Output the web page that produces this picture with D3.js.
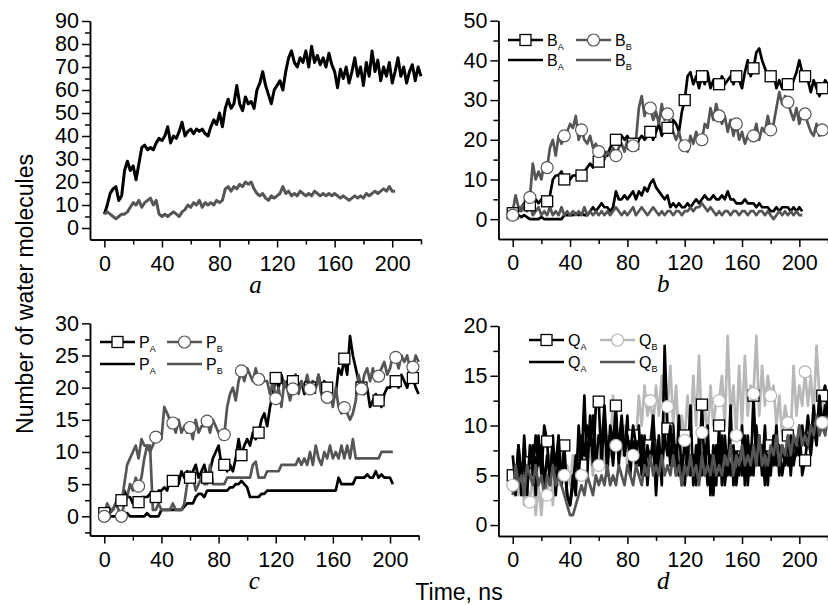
<!DOCTYPE html>
<html>
<head>
<meta charset="utf-8">
<script src="https://cdnjs.cloudflare.com/ajax/libs/d3/7.8.5/d3.min.js"></script>
<style>
body{margin:0;background:#fff;}
svg{display:block;font-family:"Liberation Sans",Arial,sans-serif;}
.axis path,.axis line{stroke:#000;stroke-width:1.5;}
.axis text{font-size:21.5px;fill:#000;}
</style>
</head>
<body>
<svg id="chart" width="828" height="605"></svg>
<script>
// samples every 2 ns, starting at 0 ns
const step = 2;
const xMajor = [0, 40, 80, 120, 160, 200];
const xMinor = [20, 60, 100, 140, 180, 220];

// panel a
const aBlack = [6,10,15,17,18,12,14,25,29,25,27,21,28,35,36,34,35,34,37,39,
  38,40,44,37,40,39,42,46,40,42,43,41,43,42,43,41,40,44,47,45,
  50,44,52,56,52,54,62,54,51,57,54,55,52,60,63,68,62,58,54,60,
  62,64,60,68,74,77,72,70,74,72,77,70,79,72,75,71,74,70,76,71,
  68,61,69,65,70,63,68,74,66,70,62,72,66,77,68,73,64,70,66,72,
  63,68,74,66,70,63,68,71,64,70,66];
const aGrey = [6,7,6,5,4,5,6,6,7,9,11,10,12,9,11,12,13,10,12,6,
  5,6,5,6,7,6,5,7,8,10,9,11,10,12,9,11,10,11,10,12,
  11,12,17,18,16,18,17,19,18,20,19,20,17,15,14,15,13,12,14,13,
  14,15,18,15,16,14,15,14,16,15,14,15,14,16,15,14,15,14,15,14,
  15,14,13,14,13,12,13,14,13,14,13,15,14,15,16,15,16,17,16,18,
  16,16];

// panel b
const bAmark = [1.5,2,2,3,4,4,3.5,5,5,4,5,5,4.5,6,10,11,11,12,10,9,
  10,11,11,12,11,12,13,14,13,15,14.5,16,17,16,18,19,20,19,21,20,
  21,19,19,18,20,21,20,21,22,20,22,24,21,23,23,22,25,24,22,27,
  30,36,37,34,36,33,36,34,37,33,35,34,34,36,34,35,36,34,36,35,
  33,37,40,36,38,42,43,40,38,36,36,37,33,35,33,35,34,33,35,37,
  40,37,36,35,32,35,33,31,33,35,34];
const bBmark = [1,2,3,3,4,5,5.5,14,10,12,10,14,13,18,20,16,21,19,21,22,
  24,23,26,20,22.5,20,19,21,18,19,17,18,15,17,16,18,16,18,19,17,
  20,19,18.5,20,28,31,26,29,28,25,27,24,29,25,26.5,24,22,20,22,19,
  18.5,17,21,19,22,20,20,24,23,28,25,29,26,24,26,22,25,21,24,20,
  22,19,21,20,21,24,20,23,22,26,22.5,24,28,32,29,31,29.5,27,25,28,
  24,27,26.5,24,22,21,24,21,22.5,23,22];
const bA = [2,1,1,0.5,1,0.5,0,0,0,0,0.5,0,0,0,0,0,0,0,1,1,
  1,1,1.5,1,1.5,1,1,2,3,2,3,4,3,3,2,3,7,5,5,6,
  5,6,7,5,7,6,8,7,9,10,8,7,6,5,6,3,4,3,4,3,
  3,4,3,4,5,4,5,6,5,5,6,5,5,6,5,7,5,5,4,4,
  4,5,4,4,4,3,4,3,3,3,2,2,3,2,3,3,3,2,3,2,
  3,2];
const bB = [2,6,3,2,3,2,4,1,2,3,1,2,1,3,1,2,1,3,1,2,
  1,2,1,2,1,3,1,2,1,2,1,2,1,2,1,2,3,2,1,2,
  1,2,3,1,2,3,2,1,2,3,2,1,2,1,2,2,1,2,2,1,
  2,2,3,2,3,3,4,3,2,3,2,1,2,1,2,2,1,2,2,1,
  2,2,1,2,2,1,2,2,1,2,1,0,1,2,1,2,1,2,1,2,
  1,1];

// panel c
const cAmark = [0.5,0.5,1,1,2,2,2.5,4,3,3,2,2,2.2,3,3,3,3.5,3,3,4,
  4,4.5,4,6,5.5,5,5,7,6,7,6,7,8,6,7,8,6,7,9,10,
  11,8,8,7,8,7,9,12,9.5,11,12,11,13,12,13,15,16,14,17,19,
  21.5,20,22,20,21,19,21,22,20,21,19,21,20,21,20,22,19,21,20,20,
  18,19,23,22,24.5,22,28,25,23,21,20,19,20,17,18,19,18,17,19,20,
  20,21,21,20,22,21,20,22,21.5,20,19];
const cBmark = [0,1,0.5,1,2,1,0,2,3,5,4,6,4.7,6,9,11,10,11,12.3,13,
  12,17,16,15,14.5,13,15,13,14,13,13.8,12,15,13,14,14,14.8,13,15,14,
  13,12,12.7,17,19,20,18,21,22.6,21,23,22,21,23,21.3,22,21,21,19,21,
  18.3,20,17,21,20,18,19.8,22,19,21,20,22,19.8,21,20,22,19,18,18.5,19,
  17,20,17,16,16.9,16,15,16,18,22,19.8,22,23,21,23,21,21.8,23,24,22,
  23,25,24.7,23,25,24,25,23,23.2,25,24];
const cA = [0,0,0,0,0,0,0,0,0.5,0,0,0,0,0,0,0.5,0,0,0,0,
  1,1,1,1,1,1,1,1,1.5,2,2,2,3,3.5,3.5,3,4,4,4,4,
  4,4,4,4,4.5,4.5,5,5,5.5,5,4.5,3,3,3,3,3.5,3.5,4,4,4,
  4,4,4,4,4,4,4,4,4,4,4,4,4,4,4,4,4,4,4,4,
  4,4,6,5,5,5,5,5,6,6,6,6,6.5,6,6,7,6,6.5,6,6,
  6,5];
const cB = [0,2,1,1,2,3,2,5,8,9,10,11,9,12,11,11,11,1,1,2,
  1,1,1,1,2,1,1,1,2,5,7,6,4,5,6,5,5,8,5,5,
  5,5,5,6,6,6,6,6,6,6,6,6,8,8.5,6,6,6,7,7,7,
  7,7,8,8,8,8,8,8,9,8,9,8,10,8,11,9,8,10,9,11,
  9,10,9,11,9,11,9,12,9,9,9,9,9,9,9,9,9,10,10,10,
  10,10];

// panel d
const dAmark = [5,3,8,3,9,4,6.3,8,3,9,5,10,8.4,4,9,3,7,5,8,3,
  2,5,3,10,6,13,5,11,6,12,12.4,6,11,5,10,8,12,6,10,7,
  11,5,9,6,10,5,9,4,8,11,6,9,4,18,9.7,6,10,5,11,4,
  9,6,12,4,8,5,12.1,5,10,3,8,4,10,4,9,5,12,4,8,5,
  10,4,9,5,13,6,9,5,10,4,8,6,10,5,8,6,9,5,9,7,
  10,5,6.5,9,7,10,8,12,13,14,11];
const dBmark = [4,5,3,6,2,4,2.3,5,1,4,1,5,3,7,2,6,4,8,5,6,
  4,7,6,8,5,7,6,8,5,9,6,8,6,9,7,13,8,9,7,10,
  6,9,7,8,13,10,14,11,12.5,10,14,11,15,10,11.9,16,10,14,8,11,
  8.5,13,9,15,10,17,9.3,12,9,14,10,12.5,12.5,15,10,19,11,14,9,16,
  10,17,11,14,13.2,19,11,16,12,15,13,14,10,13,9,12,10.3,9,16,11,
  14,12,15.4,12,15,11,18,13,10.3,14,12];
const dA = [7,4,8,5,7,3,8,5,9,6,8,4,7,5,8,6,9,4,6,3,
  2,4,7,5,9,7,10,8,11,6,9,8,12,7,9,6,10,8,11,7,
  9,7,10,8,6,9,5,8,6,9,3,8,5,9,7,10,6,8,5,7,
  4,8,5,7,4,9,5,8,4,7,3,8,5,9,4,7,5,8,4,7,
  5,9,4,8,5,10,6,8,4,7,5,9,6,8,5,7,6,9,6,8,
  7,10,8,11,8,12,9,13,10,12,10];
const dB = [3,6,4,5,3,6,5,4,6,4,5,3,5,4,6,4,5,4,3,2,
  1,1,2,3,4,3,5,4,3,5,4,5,4,6,4,5,4,6,5,4,
  6,5,4,6,5,4,6,5,7,5,6,5,7,5,6,5,7,5,6,4,
  6,5,7,5,6,4,7,5,6,5,7,5,6,5,7,6,8,5,7,6,
  8,6,7,6,8,6,9,6,7,6,8,7,9,6,8,7,9,7,9,8,
  10,8,9,8,10,9,11,9,10,9,11];

const BLACK = '#000', GREY = '#555', LIGHT = '#b8b8b8';
const svg = d3.select('#chart');

function addMarkers(g, s, x, y){
  const pts = s.values.map((v,i)=>({t:i*step, v:v})).filter(d=>d.t % 12 === 0);
  if(s.marker==='square'){
    g.selectAll(null).data(pts).enter().append('rect')
      .attr('x', d=>x(d.t)-5.5).attr('y', d=>y(d.v)-5.5)
      .attr('width', 11).attr('height', 11)
      .attr('fill','#fff').attr('stroke', s.markerStroke).attr('stroke-width',1.3);
  } else {
    g.selectAll(null).data(pts).enter().append('circle')
      .attr('cx', d=>x(d.t)).attr('cy', d=>y(d.v)).attr('r', 6)
      .attr('fill','#fff').attr('stroke', s.markerStroke).attr('stroke-width',1.2);
  }
}

function drawPanel(p){
  const x = d3.scaleLinear().domain([-10, 220]).range([p.left, p.right]);
  const y = d3.scaleLinear().domain(p.yDomain).range([p.bottom, p.top]);
  const g = svg.append('g');

  // axes: minor ticks first, then labelled major ticks
  g.append('g').attr('class','axis').attr('transform',`translate(0,${p.bottom})`)
    .call(d3.axisBottom(x).tickValues(xMinor).tickSize(5).tickSizeOuter(0).tickFormat(''));
  g.append('g').attr('class','axis').attr('transform',`translate(0,${p.bottom})`)
    .call(d3.axisBottom(x).tickValues(xMajor).tickSize(8).tickSizeOuter(0).tickPadding(8));
  g.append('g').attr('class','axis').attr('transform',`translate(${p.left},0)`)
    .call(d3.axisLeft(y).tickValues(p.yMinor).tickSize(5).tickSizeOuter(0).tickFormat(''));
  g.append('g').attr('class','axis').attr('transform',`translate(${p.left},0)`)
    .call(d3.axisLeft(y).tickValues(p.yMajor).tickSize(8).tickSizeOuter(0).tickPadding(3));

  const line = d3.line().x((d,i)=>x(i*step)).y(d=>y(d));
  // series are drawn in listed order; 'under' symbols go right after their own line
  p.series.forEach(s=>{
    g.append('path').datum(s.values)
      .attr('d', line).attr('fill','none')
      .attr('stroke', s.color).attr('stroke-width', s.width || 2.7)
      .attr('stroke-linejoin','round');
    if(s.marker && s.under) addMarkers(g, s, x, y);
  });
  p.series.filter(s=>s.marker && !s.under).forEach(s=>addMarkers(g, s, x, y));

  // legend, in the order given by legendOrder
  if(p.legend){
    const L = p.legend;
    p.legend.order.forEach((idx,k)=>{
      const s = p.series[idx];
      const col = k % 2, row = Math.floor(k/2);
      const lx = L.x + col*L.dx, ly = L.rows[row];
      const lg = g.append('g');
      lg.append('line').attr('x1',lx).attr('x2',lx+35).attr('y1',ly).attr('y2',ly)
        .attr('stroke', s.color).attr('stroke-width', 2.6);
      if(s.marker==='square'){
        lg.append('rect').attr('x',lx+12).attr('y',ly-5.5).attr('width',11).attr('height',11)
          .attr('fill','#fff').attr('stroke',s.markerStroke).attr('stroke-width',1.3);
      } else if(s.marker==='circle'){
        lg.append('circle').attr('cx',lx+17.5).attr('cy',ly).attr('r',6)
          .attr('fill','#fff').attr('stroke',s.markerStroke).attr('stroke-width',1.2);
      }
      const t = lg.append('text').attr('x',lx+39).attr('y',ly+6)
        .attr('font-size',16).text(s.name[0]);
      t.append('tspan').attr('font-size',9).attr('dy',4).text(s.name[1]);
    });
  }

  svg.append('text').attr('x',(p.left+p.right)/2).attr('y',p.bottom+53)
    .attr('text-anchor','middle').attr('font-family','"Liberation Serif","Times New Roman",serif')
    .attr('font-style','italic').attr('font-size',25).text(p.tag);
}

drawPanel({tag:'a', left:90, right:421, top:21, bottom:239.5, yDomain:[-5,90],
  yMajor:d3.range(0,91,10), yMinor:d3.range(5,90,10),
  series:[{values:aBlack,color:BLACK,width:3},{values:aGrey,color:GREY,width:3}]});

drawPanel({tag:'b', left:498.4, right:828, top:20.7, bottom:239, yDomain:[-5,50],
  yMajor:d3.range(0,51,10), yMinor:d3.range(5,50,10),
  legend:{x:508, dx:68, rows:[40,60], order:[0,1,2,3]},
  series:[{values:bAmark,color:BLACK,marker:'square',markerStroke:BLACK,name:['B','A']},
          {values:bBmark,color:GREY,marker:'circle',markerStroke:GREY,name:['B','B']},
          {values:bA,color:BLACK,name:['B','A']},
          {values:bB,color:GREY,name:['B','B']}]});

drawPanel({tag:'c', left:90, right:418.6, top:323.3, bottom:535.6, yDomain:[-3,30],
  yMajor:d3.range(0,31,5), yMinor:d3.range(-2.5,30,5),
  legend:{x:100, dx:67, rows:[342,364], order:[0,1,2,3]},
  series:[{values:cAmark,color:BLACK,marker:'square',markerStroke:BLACK,name:['P','A']},
          {values:cBmark,color:GREY,marker:'circle',markerStroke:GREY,name:['P','B']},
          {values:cA,color:BLACK,name:['P','A']},
          {values:cB,color:GREY,name:['P','B']}]});

drawPanel({tag:'d', left:498.4, right:828, top:326, bottom:536, yDomain:[-1.1,20],
  yMajor:d3.range(0,21,5), yMinor:d3.range(2.5,20,5),
  legend:{x:529, dx:71, rows:[340,362], order:[1,0,2,3]},
  series:[{values:dBmark,color:LIGHT,marker:'circle',markerStroke:LIGHT,name:['Q','B']},
          {values:dAmark,color:BLACK,marker:'square',markerStroke:BLACK,name:['Q','A'],under:true},
          {values:dA,color:BLACK,name:['Q','A']},
          {values:dB,color:GREY,name:['Q','B']}]});

svg.append('text').attr('transform','translate(33,294) rotate(-90)')
  .attr('text-anchor','middle').attr('font-size',23).text('Number of water molecules');
svg.append('text').attr('x',459).attr('y',600)
  .attr('text-anchor','middle').attr('font-size',23).text('Time, ns');
</script>
</body>
</html>
